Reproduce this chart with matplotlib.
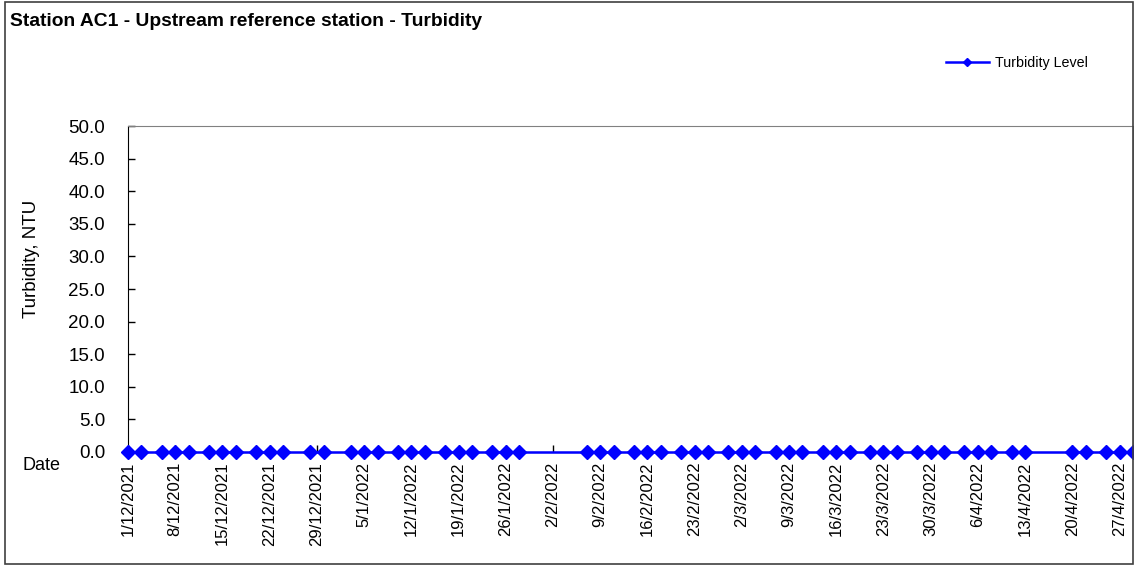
import matplotlib
matplotlib.use("Agg")
import matplotlib.pyplot as plt
from matplotlib.patches import Rectangle
import pandas as pd

plt.rcParams['font.family'] = ['Liberation Sans', 'DejaVu Sans']

# sample dates (Mon/Wed/Fri schedule) and turbidity readings
sample_dates = [
    "2021-12-01", "2021-12-03", "2021-12-06", "2021-12-08", "2021-12-10",
    "2021-12-13", "2021-12-15", "2021-12-17", "2021-12-20", "2021-12-22",
    "2021-12-24", "2021-12-28", "2021-12-30",
    "2022-01-03", "2022-01-05", "2022-01-07", "2022-01-10", "2022-01-12",
    "2022-01-14", "2022-01-17", "2022-01-19", "2022-01-21", "2022-01-24",
    "2022-01-26", "2022-01-28",
    "2022-02-07", "2022-02-09", "2022-02-11", "2022-02-14", "2022-02-16",
    "2022-02-18", "2022-02-21", "2022-02-23", "2022-02-25", "2022-02-28",
    "2022-03-02", "2022-03-04", "2022-03-07", "2022-03-09", "2022-03-11",
    "2022-03-14", "2022-03-16", "2022-03-18", "2022-03-21", "2022-03-23",
    "2022-03-25", "2022-03-28", "2022-03-30",
    "2022-04-01", "2022-04-04", "2022-04-06", "2022-04-08", "2022-04-11",
    "2022-04-13", "2022-04-20", "2022-04-22", "2022-04-25", "2022-04-27",
    "2022-04-29",
]
turbidity = [0.0] * len(sample_dates)

x_start = "2021-12-01"
x_end = "2022-04-29"
tick_dates = pd.date_range(x_start, "2022-04-27", freq="7D")
y_ticks = [0, 5, 10, 15, 20, 25, 30, 35, 40, 45, 50]

dates = pd.to_datetime(sample_dates)

fig = plt.figure(figsize=(11.34, 5.65), dpi=100)
ax = fig.add_axes([128 / 1134, 113 / 565, 1005 / 1134, 326 / 565])

ax.plot(dates, turbidity, color="#0000FF", linewidth=1.8, marker="D",
        markersize=7, clip_on=False, zorder=5, label="Turbidity Level")

ax.set_xlim(pd.Timestamp(x_start), pd.Timestamp(x_end))
ax.set_ylim(0, 50)
ax.set_yticks(y_ticks)
ax.set_yticklabels([f"{v:.1f}" for v in y_ticks], fontsize=13.5)
ax.set_xticks(tick_dates)
ax.set_xticklabels([f"{d.day}/{d.month}/{d.year}" for d in tick_dates],
                   rotation=90, fontsize=12)
ax.tick_params(axis="both", direction="in", length=5, width=1, color="black")
ax.tick_params(axis="x", pad=7)
ax.tick_params(axis="y", pad=16.5)

for side in ["left", "bottom"]:
    ax.spines[side].set_color("black")
for side in ["top", "right"]:
    ax.spines[side].set_color("#808080")

fig.text(31 / 1134, 1 - 259 / 565, "Turbidity, NTU", fontsize=13.5,
         rotation=90, ha="center", va="center")
fig.text(22 / 1134, 1 - 466 / 565, "Date", fontsize=13, va="center", ha="left")

fig.text(10 / 1134, 1 - 22 / 565, "Station AC1 - Upstream reference station - Turbidity",
         fontsize=13.9, fontweight="bold", va="center", ha="left")

ax.legend(loc="center left", bbox_to_anchor=(933 / 1134, 1 - 63 / 565),
          bbox_transform=fig.transFigure, frameon=False, fontsize=10.3,
          handlelength=3.0, markerscale=0.55, handletextpad=0.4)

fig.patches.append(Rectangle((5 / 1134, 1 / 565), 1128 / 1134, 562 / 565,
                             transform=fig.transFigure, fill=False,
                             edgecolor="#404040", linewidth=1.2))

fig.savefig("out.png", dpi=100)
